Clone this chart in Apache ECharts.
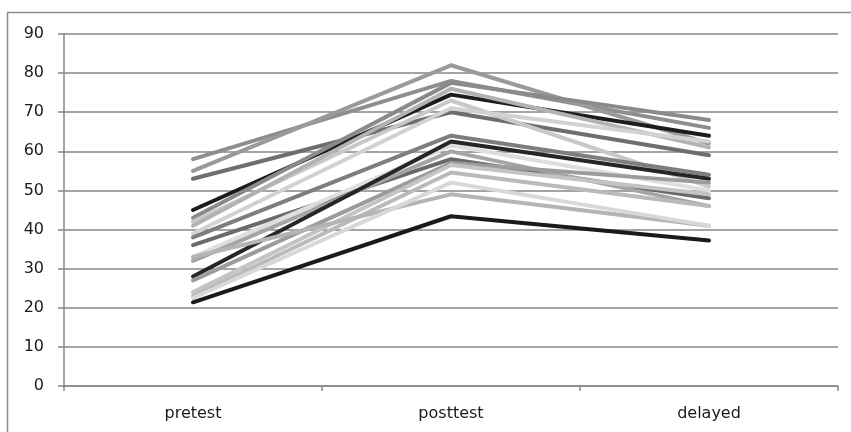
<!DOCTYPE html>
<html><head><meta charset="utf-8">
<script src="https://cdn.jsdelivr.net/npm/echarts@6/dist/echarts.min.js"></script>
<style>html,body{margin:0;padding:0;background:#fff}#c{width:851px;height:432px}</style>
</head><body><div id="c"></div>
<script>
const categories = ['pretest', 'posttest', 'delayed'];
const yTicks = [0, 10, 20, 30, 40, 50, 60, 70, 80, 90];
const s1 = [58, 78, 66];
const s2 = [55, 82, 62];
const s3 = [53, 70, 59];
const s4 = [45, 74.5, 64];
const s5 = [43, 77.5, 68];
const s6 = [42, 73, 51];
const s7 = [41, 76, 61];
const s8 = [39, 71, 62.5];
const s9 = [38, 64, 54];
const s10 = [36, 58, 48];
const s11 = [33, 61.5, 50];
const s12 = [32, 60, 46];
const s13 = [28, 62.5, 53];
const s14 = [27, 57, 52];
const s15 = [24, 56.5, 49];
const s16 = [23, 54.6, 46];
const s17 = [33, 49, 41];
const s18 = [22.5, 52, 41];
const s19 = [21.4, 43.4, 37.2];
const seriesData = [s1,s2,s3,s4,s5,s6,s7,s8,s9,s10,s11,s12,s13,s14,s15,s16,s17,s18,s19];
const colors = ['#8e8e8e','#9a9a9a','#6e6e6e','#1c1c1c','#8a8a8a','#c8c8c8','#b2b2b2','#d2d2d2','#7e7e7e','#6a6a6a','#dedede','#a5a5a5','#262626','#9c9c9c','#c4c4c4','#bababa','#b4b4b4','#d8d8d8','#1a1a1a'];

const chart = echarts.init(document.getElementById('c'), null, {renderer: 'canvas'});
chart.setOption({
  animation: false,
  backgroundColor: '#fff',
  graphic: [{type: 'rect', shape: {x: 7.5, y: 12.5, width: 900, height: 500}, style: {fill: 'none', stroke: '#8a8a8a', lineWidth: 1.5}, z: -1}],
  grid: {left: 64, right: 13, top: 34, bottom: 46},
  xAxis: {
    type: 'category', data: categories, boundaryGap: true,
    axisLine: {lineStyle: {color: '#868686', width: 1.5}},
    axisTick: {show: true, length: 5, lineStyle: {color: '#868686', width: 1.5}},
    axisLabel: {color: '#1a1a1a', fontFamily: 'DejaVu Sans', fontSize: 16, margin: 20}
  },
  yAxis: {
    type: 'value', min: yTicks[0], max: yTicks[yTicks.length - 1], interval: 10,
    axisLine: {show: true, lineStyle: {color: '#868686', width: 1.5}},
    axisTick: {show: true, length: 6, lineStyle: {color: '#868686', width: 1.5}},
    splitLine: {show: true, lineStyle: {color: '#868686', width: 1.5}},
    axisLabel: {color: '#1a1a1a', fontFamily: 'DejaVu Sans', fontSize: 16, margin: 20}
  },
  series: seriesData.map((d, i) => ({
    type: 'line', data: d, symbol: 'none',
    lineStyle: {color: colors[i], width: 4, cap: 'round', join: 'round'},
    z: 2 + i
  }))
});
</script></body></html>
